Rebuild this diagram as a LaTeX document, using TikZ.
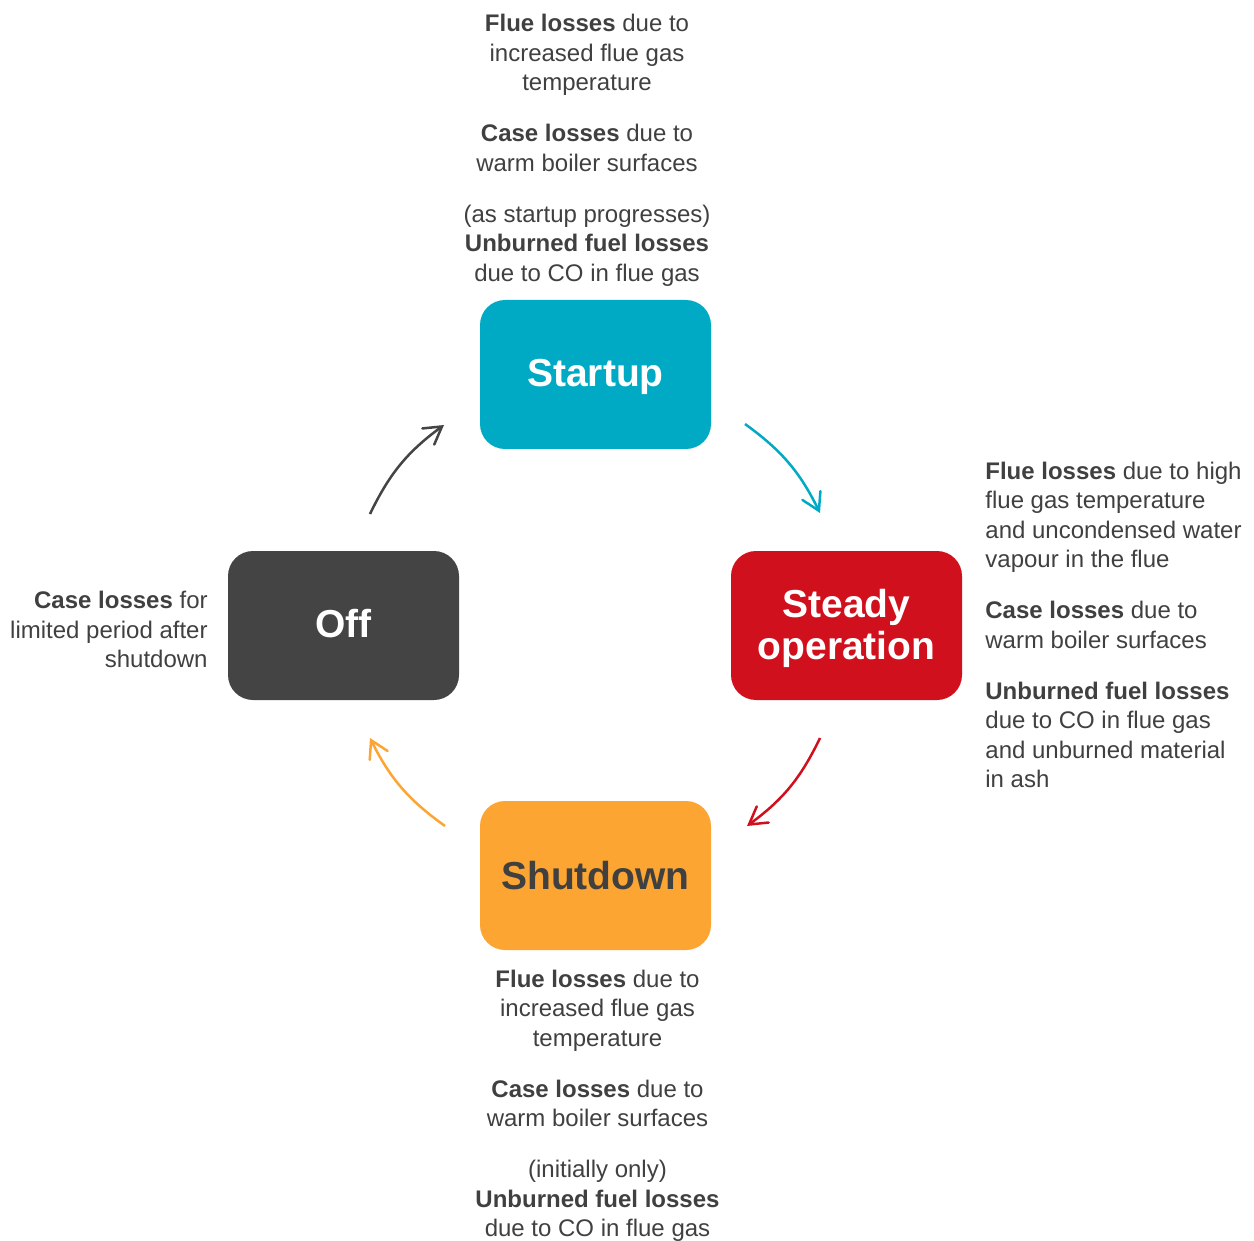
\documentclass[tikz,border=0pt]{standalone}
\usepackage{fontspec}
\setmainfont{Liberation Sans}
\usetikzlibrary{arrows.meta}
\definecolor{cstart}{HTML}{00AAC4}
\definecolor{csteady}{HTML}{D0111D}
\definecolor{coff}{HTML}{444444}
\definecolor{cshut}{HTML}{FDA532}
\definecolor{ctext}{HTML}{404040}
\begin{document}
\begin{tikzpicture}[x=0.5pt,y=-0.5pt,
  state/.style={rounded corners=12.5pt, minimum width=115.5pt, minimum height=74.5pt,
    inner sep=0pt, font=\fontsize{19.5}{21}\selectfont\bfseries, align=center},
  info/.style={text=ctext, font=\fontsize{12}{14.75}\selectfont, inner sep=0pt},
  flow/.style={line width=1.25pt, -{Straight Barb[length=8.5pt,width=10pt,line cap=round]}}]
\useasboundingbox (0,0) rectangle (1254,1241);

\node[state, fill=cstart, text=white, text depth=2pt] (startup) at (595.5,374.5) {Startup};
\node[state, fill=csteady, text=white, text depth=1.5pt] (steady) at (846.5,625.5) {Steady\\operation};
\node[state, fill=coff, text=white, text depth=2pt] (off) at (343.5,625.5) {Off};
\node[state, fill=cshut, text=ctext] (shutdown) at (595.5,875.5) {Shutdown};

\node[info, align=center, anchor=base] (topinfo) at (587,281.5)
  {\textbf{Flue losses} due to\\increased flue gas\\temperature\\[10.75pt]
   \textbf{Case losses} due to\\warm boiler surfaces\\[10.75pt]
   (as startup progresses)\\\textbf{Unburned fuel losses}\\due to CO in flue gas};

\node[info, align=left, anchor=base west] (rightinfo) at (985,787.5)
  {\textbf{Flue losses} due to high\\flue gas temperature\\and uncondensed water\\vapour in the flue\\[10.75pt]
   \textbf{Case losses} due to\\warm boiler surfaces\\[10.75pt]
   \textbf{Unburned fuel losses}\\due to CO in flue gas\\and unburned material\\in ash};

\node[info, align=right, anchor=base east] (leftinfo) at (208,667.5)
  {\textbf{Case losses} for\\limited period after\\shutdown};

\node[info, align=center, anchor=base] (bottominfo) at (597.5,1236.5)
  {\textbf{Flue losses} due to\\increased flue gas\\temperature\\[10.75pt]
   \textbf{Case losses} due to\\warm boiler surfaces\\[10.75pt]
   (initially only)\\\textbf{Unburned fuel losses}\\due to CO in flue gas};

\coordinate (a1s) at (745,424);
\coordinate (a1e) at (820,513);
\coordinate (a2s) at (820,738);
\coordinate (a2e) at (747,826);
\coordinate (a3s) at (445,826);
\coordinate (a3e) at (370,738);
\coordinate (a4s) at (370,514);
\coordinate (a4e) at (444,425);

\draw[flow, cstart] (a1s) to[bend left=14] (a1e);
\draw[flow, csteady] (a2s) to[bend left=14] (a2e);
\draw[flow, cshut] (a3s) to[bend left=14] (a3e);
\draw[flow, coff] (a4s) to[bend left=14] (a4e);
\end{tikzpicture}
\end{document}
